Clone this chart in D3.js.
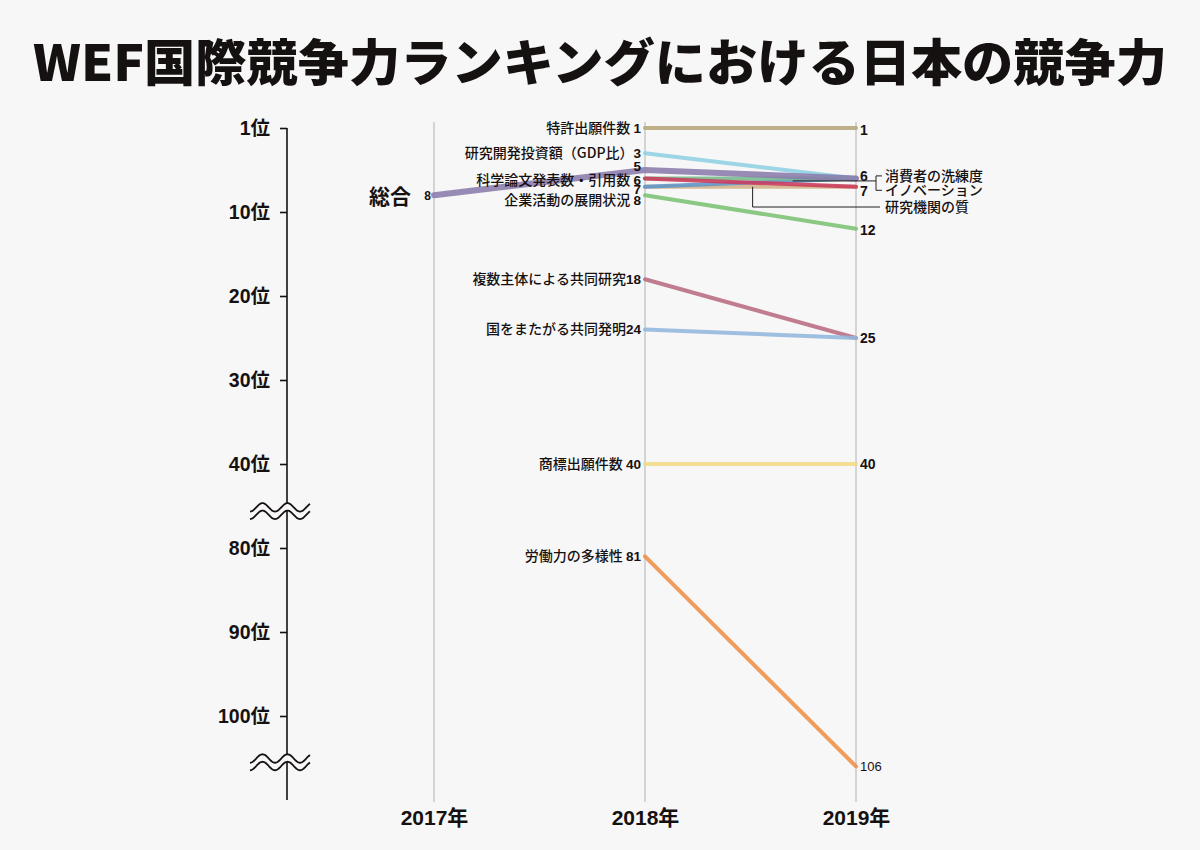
<!DOCTYPE html>
<html>
<head>
<meta charset="utf-8">
<script src="https://cdn.jsdelivr.net/npm/d3@7"></script>
<style>
  body { margin: 0; background: #f7f7f7; }
  svg { display: block; }
  text { font-family: 'Liberation Sans', 'Noto Sans CJK JP', sans-serif; fill: #161111; }
</style>
</head>
<body>
<div id="chart"></div>
<script>
const title = 'WEF国際競争力ランキングにおける日本の競争力';
const years = ['2017年', '2018年', '2019年'];

const seriesNames = [
  '特許出願件数',
  '商標出願件数',
  '労働力の多様性',
  '複数主体による共同研究',
  '国をまたがる共同発明',
  '企業活動の展開状況',
  '研究機関の質',
  '消費者の洗練度',
  '科学論文発表数・引用数',
  'イノベーション',
  '研究開発投資額（GDP比）',
  '総合',
];
const rank2017 = [null, null, null, null, null, null, null, null, null, null, null, 8];
const rank2018 = [1, 40, 81, 18, 24, 8, 7, 7, 6, 6, 3, 5];
const rank2019 = [1, 40, 106, 25, 25, 12, 7, 6, 6, 7, 6, 6];
// where each name is written: 2018 side, 2019 callout, or 2017 side
const nameSide = ['2018', '2018', '2018', '2018', '2018', '2018', '2019', '2019', '2018', '2019', '2018', '2017'];
const seriesColors = [
  '#b6a67a', '#f3dc86', '#ef8f47', '#b86c82', '#93b7dd', '#7cc273',
  '#d2b389', '#5e95c8', '#74b98c', '#cc3a5c', '#8fd0e2', '#8a7bac',
];

const tickRanks = [1, 10, 20, 30, 40, 80, 90, 100];
const tickLabels = ['1位', '10位', '20位', '30位', '40位', '80位', '90位', '100位'];
const breakRanks = [45.6, 105.5];

const width = 1200;
const height = 850;

const svg = d3.select('#chart')
  .append('svg')
  .attr('width', width)
  .attr('height', height);

svg.append('rect').attr('width', width).attr('height', height).attr('fill', '#f7f7f7');

svg.append('text')
  .attr('x', width / 2)
  .attr('y', 81)
  .attr('text-anchor', 'middle')
  .style('font-size', '50px')
  .style('font-weight', 900)
  .style('font-family', "'Noto Sans CJK JP', sans-serif")
  .attr('textLength', 1134)
  .attr('lengthAdjust', 'spacingAndGlyphs')
  .text(title);

// broken rank axis: 46..76 collapse onto the first break
const y = d3.scaleLinear()
  .domain([1, 3, 46, 76, 110])
  .range([128, 153.2, 514.4, 514.4, 800]);

const x = d3.scalePoint()
  .domain(years)
  .range([434, 856]);

// year gridlines
svg.append('g')
  .selectAll('line')
  .data(years)
  .join('line')
  .attr('x1', d => x(d))
  .attr('x2', d => x(d))
  .attr('y1', 122)
  .attr('y2', 802)
  .attr('stroke', '#cbcbcb')
  .attr('stroke-width', 1.6);

const xAxis = svg.append('g')
  .attr('transform', 'translate(0,802)')
  .call(d3.axisBottom(x).tickSize(0).tickPadding(8));
xAxis.select('.domain').remove();
xAxis.selectAll('text')
  .style('font-size', '21px')
  .style('font-weight', 'bold')
  .attr('fill', '#161111');

// rank axis
const axisX = 287;
const yAxis = svg.append('g')
  .attr('transform', `translate(${axisX},0)`)
  .call(d3.axisLeft(y).tickValues(tickRanks).tickSize(7).tickPadding(10)
    .tickFormat((d, i) => tickLabels[i]));
yAxis.select('.domain').remove();
yAxis.selectAll('.tick line').attr('stroke', '#161111').attr('stroke-width', 1.6);
yAxis.selectAll('text')
  .style('font-size', '19.5px')
  .style('font-weight', 'bold')
  .attr('fill', '#161111');
svg.append('line')
  .attr('x1', axisX).attr('x2', axisX)
  .attr('y1', y(1)).attr('y2', y(110))
  .attr('stroke', '#161111')
  .attr('stroke-width', 1.6);

// wavy break marks
const waveTop = (cy) => d3.range(0, 61, 1).map(i => [250 + i, cy - 3.7 + 4.3 * Math.cos((2 * Math.PI * i) / 25)]);
breakRanks.forEach(r => {
  const cy = y(r);
  const top = waveTop(cy);
  const bottom = top.map(([px, py]) => [px, py + 7.5]);
  const line = d3.line().curve(d3.curveBasis);
  svg.append('path')
    .attr('d', d3.line()(top.concat(bottom.slice().reverse())) + 'Z')
    .attr('fill', '#f7f7f7');
  [top, bottom].forEach(pts => {
    svg.append('path')
      .attr('d', line(pts))
      .attr('fill', 'none')
      .attr('stroke', '#161111')
      .attr('stroke-width', 1.8);
  });
});

// series lines
const series = seriesNames.map((name, i) => ({
  name,
  color: seriesColors[i],
  side: nameSide[i],
  values: [rank2017[i], rank2018[i], rank2019[i]]
    .map((v, j) => ({year: years[j], rank: v}))
    .filter(d => d.rank !== null),
}));

const path = d3.line().x(d => x(d.year)).y(d => y(d.rank));

svg.append('g')
  .selectAll('path')
  .data(series)
  .join('path')
  .attr('d', d => path(d.values))
  .attr('fill', 'none')
  .attr('stroke', d => d.color)
  .attr('stroke-width', d => (d.name === '総合' ? 6 : 4))
  .attr('stroke-opacity', 0.88)
  .attr('stroke-linecap', 'round');

// small vertical nudges for the crowded top ranks
const nudge2018 = {5: -3.5, 6: 1.5, 7: 2.5, 8: 5};
const nudge2019 = {1: 2, 6: -2.5, 7: 4, 12: 1};

// 2018 labels: one per distinct rank, names that belong to the left side
const labels2018 = d3.groups(series.filter(s => rank2018[seriesNames.indexOf(s.name)] !== null),
  s => rank2018[seriesNames.indexOf(s.name)]);
labels2018.forEach(([rank, group]) => {
  const names = group.filter(s => s.side === '2018').map(s => s.name);
  const t = svg.append('text')
    .attr('x', x('2018年') - 4)
    .attr('y', y(rank) + (nudge2018[rank] || 0))
    .attr('dy', '0.36em')
    .attr('text-anchor', 'end')
    .style('font-size', '13.5px');
  if (names.length) {
    const label = names[0];
    const joined = /）$/.test(label) || label.endsWith('研究') || label.endsWith('発明') ? '' : ' ';
    t.append('tspan')
      .style('font-family', "'Noto Sans CJK JP', sans-serif")
      .style('font-size', '14px')
      .style('font-weight', 500)
      .text(label + joined);
  }
  t.append('tspan').style('font-weight', 'bold').text(rank);
});

// 2019 number labels
d3.groups(series, s => rank2019[seriesNames.indexOf(s.name)])
  .forEach(([rank]) => {
    svg.append('text')
      .attr('x', x('2019年') + 4)
      .attr('y', y(rank) + (nudge2019[rank] || 0))
      .attr('dy', '0.36em')
      .style('font-size', rank > 99 ? '13px' : '14px')
      .style('font-weight', rank > 99 ? 'normal' : 'bold')
      .text(rank);
  });

// 2017 label for 総合
series.filter(s => s.side === '2017').forEach(s => {
  const v = s.values[0];
  svg.append('text')
    .attr('x', x(v.year) - 3)
    .attr('y', y(v.rank))
    .attr('dy', '0.36em')
    .attr('text-anchor', 'end')
    .style('font-size', '12px')
    .style('font-weight', 'bold')
    .text(v.rank);
  svg.append('text')
    .attr('x', x(v.year) - 23)
    .attr('y', y(v.rank) + 1)
    .attr('dy', '0.36em')
    .attr('text-anchor', 'end')
    .style('font-family', "'Noto Sans CJK JP', sans-serif")
    .style('font-size', '21px')
    .style('font-weight', 'bold')
    .text(s.name);
});

// callouts for names written on the 2019 side
const pointAt = (name, t) => {
  const i = seriesNames.indexOf(name);
  const r = rank2018[i] + (rank2019[i] - rank2018[i]) * t;
  return [x('2018年') + (x('2019年') - x('2018年')) * t, y(r)];
};
const calloutX = 885;
const leader = svg.append('g')
  .attr('fill', 'none')
  .attr('stroke', '#222')
  .attr('stroke-width', 1);

const [bx, by] = pointAt('消費者の洗練度', 0.70);
const bracketTop = y(6) - 2.5;
const bracketBottom = y(7) + 3.5;
leader.append('path')
  .attr('d', `M${bx},${by}H876M882,${bracketTop}H876V${bracketBottom}H882`);
[['消費者の洗練度', bracketTop], ['イノベーション', bracketBottom]].forEach(([name, ly]) => {
  svg.append('text')
    .attr('x', calloutX)
    .attr('y', ly)
    .attr('dy', '0.36em')
    .style('font-family', "'Noto Sans CJK JP', sans-serif")
    .style('font-size', '14px')
    .style('font-weight', 500)
    .text(name);
});

const [rx, ry] = pointAt('研究機関の質', 0.51);
const ly3 = 207;
leader.append('path').attr('d', `M${rx},${ry}V${ly3}H880`);
svg.append('text')
  .attr('x', calloutX)
  .attr('y', ly3)
  .attr('dy', '0.36em')
  .style('font-family', "'Noto Sans CJK JP', sans-serif")
  .style('font-size', '14px')
  .style('font-weight', 500)
  .text('研究機関の質');
</script>
</body>
</html>
